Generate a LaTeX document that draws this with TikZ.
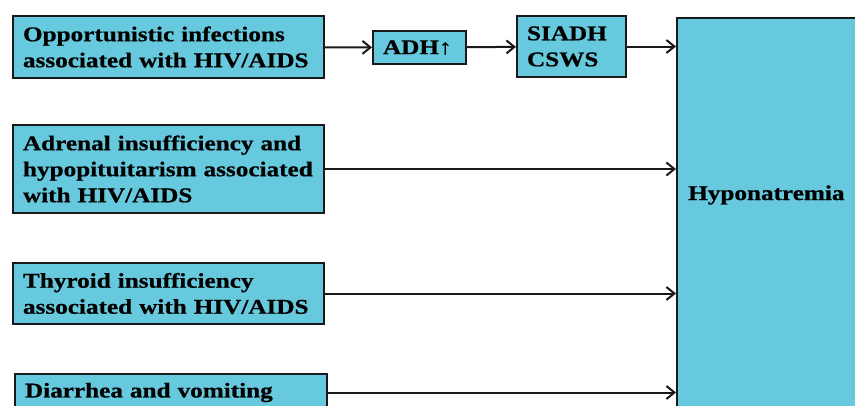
\documentclass[tikz,border=0pt]{standalone}
\usepackage{fontspec}
\setmainfont{Liberation Serif}[FakeStretch=1.2,BoldFeatures={FakeBold=0.6}]
\usepackage{tikz}
\usetikzlibrary{arrows.meta,calc}
\definecolor{boxblue}{HTML}{66C9DD}

\begin{document}
\begin{tikzpicture}[x=1pt,y=-1pt,
	every node/.style={font=\fontsize{21}{26}\selectfont\bfseries},
	cause/.style={draw=black!90, line width=2pt, fill=boxblue, anchor=north west,
		align=left, inner xsep=10pt, inner ysep=0pt},
	link/.style={draw=black!90, line width=2pt, -{Straight Barb[length=8pt,width=13pt,line width=2pt]}}]
	\clip (0,0) rectangle (855,405);
	\node[cause, text width=291pt, minimum height=62pt] (opp) at (12,15)
		{Opportunistic infections\\associated with HIV/AIDS};
	\node[cause, text width=73pt, minimum height=33pt] (adh) at (372,30) {ADH↑};
	\node[cause, text width=89pt, minimum height=61pt] (siadh) at (516,15) {SIADH\\CSWS};
	\node[cause, text width=291pt, minimum height=88pt] (adr) at (12,124)
		{Adrenal insufficiency and\\hypopituitarism associated\\with HIV/AIDS};
	\node[cause, text width=291pt, minimum height=61pt] (thy) at (12,262)
		{Thyroid insufficiency\\associated with HIV/AIDS};
	\node[cause, text width=292pt, minimum height=37pt] (dia) at (14,373)
		{Diarrhea and vomiting};
	\node[cause, minimum width=220pt, minimum height=430pt] (hypo) at (676,17) {};
	\node[anchor=west, inner sep=0pt] (hypotext) at (688,195) {Hyponatremia};
	\draw[link] (opp) -- (adh);
	\draw[link] (adh) -- (siadh);
	\draw[link] (siadh.east) -- (siadh.east -| hypo.west);
	\draw[link] (adr.east) -- (adr.east -| hypo.west);
	\draw[link] (thy.east) -- (thy.east -| hypo.west);
	\draw[link] (dia.east) -- (dia.east -| hypo.west);
\end{tikzpicture}
\end{document}
